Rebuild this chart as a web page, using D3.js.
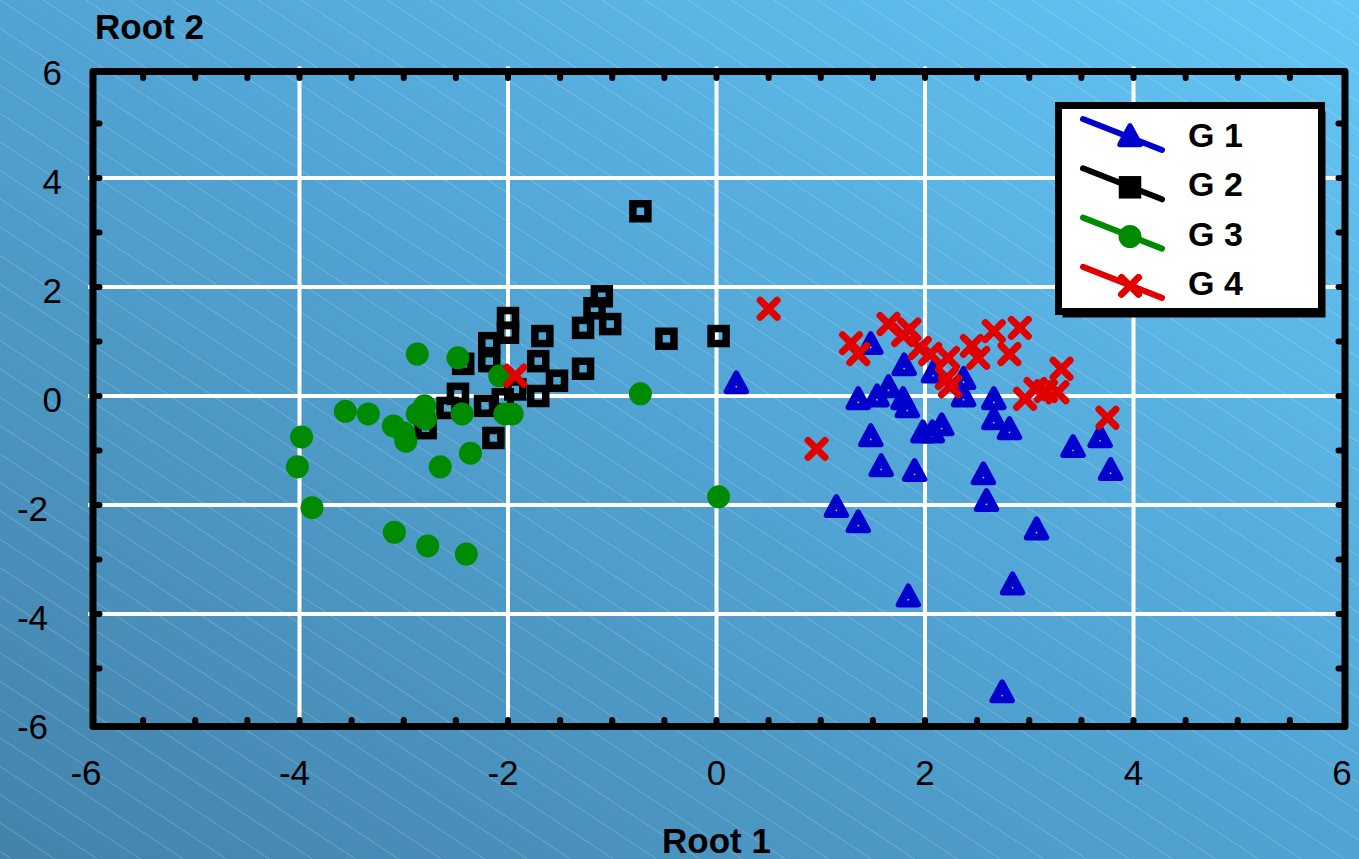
<!DOCTYPE html>
<html>
<head>
<meta charset="utf-8">
<script src="https://cdn.jsdelivr.net/npm/d3@7"></script>
<style>
  html, body { margin: 0; padding: 0; background: #50a0d0; }
  svg { display: block; }
  text { font-family: Arial, "Liberation Sans", sans-serif; fill: #000; }
</style>
</head>
<body>
<svg id="chart" width="1359" height="859"></svg>
<script>
// Discriminant scores: Root 1 (x) vs Root 2 (y) for four groups
const g1x = [0.19, 1.48, 1.80, 2.08, 2.37, 2.37, 1.36, 1.54, 1.65, 1.79, 1.83, 2.66, 2.66, 2.81, 1.48, 1.98, 2.07, 2.16, 1.58, 1.90, 2.56, 2.59, 3.42, 3.68, 3.78, 1.15, 1.36, 3.07, 1.84, 2.84, 2.74];
const g1y = [0.20, 0.92, 0.53, 0.40, 0.28, -0.04, -0.09, -0.04, 0.13, -0.09, -0.24, -0.09, -0.46, -0.64, -0.77, -0.70, -0.70, -0.57, -1.32, -1.41, -1.47, -1.96, -0.97, -0.79, -1.39, -2.07, -2.35, -2.48, -3.71, -3.49, -5.47];

const g2x = [-0.73, -1.10, -1.17, -1.28, -1.02, -0.48, 0.02, -1.28, -2.00, -2.00, -1.67, -2.18, -2.18, -2.43, -1.71, -1.53, -1.71, -1.93, -2.05, -2.22, -2.48, -2.58, -2.79, -2.14];
const g2y = [3.39, 1.83, 1.61, 1.25, 1.32, 1.05, 1.10, 0.50, 1.43, 1.16, 1.10, 0.97, 0.64, 0.59, 0.64, 0.28, 0.00, 0.12, -0.06, -0.18, 0.04, -0.22, -0.59, -0.77];

const g3x = [-2.87, -2.48, -2.08, -3.56, -3.34, -3.10, -3.00, -2.98, -2.87, -2.80, -2.79, -2.44, -2.03, -1.96, -3.98, -4.02, -2.65, -2.36, -3.88, -3.09, -2.77, -2.40, -0.73, 0.02];
const g3y = [0.77, 0.70, 0.37, -0.28, -0.33, -0.55, -0.68, -0.83, -0.33, -0.18, -0.42, -0.33, -0.33, -0.33, -0.75, -1.30, -1.30, -1.05, -2.05, -2.50, -2.75, -2.90, 0.04, -1.85];

const g4x = [0.50, 1.29, 1.36, 1.65, 1.79, 1.85, 1.95, 2.05, 2.22, 2.21, 2.24, 2.45, 2.51, 2.66, 2.81, 2.91, 3.31, 2.96, 3.06, 3.16, 3.27, 3.75, 0.96, -1.93];
const g4y = [1.60, 0.97, 0.77, 1.32, 1.12, 1.22, 0.88, 0.77, 0.70, 0.33, 0.18, 0.92, 0.70, 1.19, 0.77, 1.25, 0.50, -0.05, 0.13, 0.09, 0.07, -0.40, -0.97, 0.37];

const groupNames = ["G 1", "G 2", "G 3", "G 4"];
const groupColors = ["#0000cc", "#000000", "#008a00", "#e00000"];
const groupShapes = ["triangle", "square", "circle", "cross"];

const axisTicks = [-6, -4, -2, 0, 2, 4, 6];
const xTitle = "Root 1";
const yTitle = "Root 2";

const W = 1359, H = 859;
const svg = d3.select("#chart");
const defs = svg.append("defs");

// diagonal background gradient, darker lower-left to lighter upper-right
const grad = defs.append("linearGradient").attr("id", "bg")
  .attr("x1", 0).attr("y1", 1).attr("x2", 1).attr("y2", 0);
grad.append("stop").attr("offset", "0%").attr("stop-color", "#4383aa");
grad.append("stop").attr("offset", "50%").attr("stop-color", "#51a3d3");
grad.append("stop").attr("offset", "100%").attr("stop-color", "#64c6f6");
svg.append("rect").attr("width", W).attr("height", H).attr("fill", "url(#bg)");

// fine diagonal hatching over the whole background
const hatch = svg.append("g").attr("stroke", "#ffffff").attr("stroke-opacity", 0.22).attr("stroke-width", 1);
const slope = 0.66, spacing = 43;
d3.range(-35, 40).forEach(k => {
  const x0 = k * spacing;
  hatch.append("line").attr("x1", x0).attr("y1", 0).attr("x2", x0 + H / slope).attr("y2", H);
});

const x = d3.scaleLinear().domain([-6, 6]).range([91, 1342]);
const y = d3.scaleLinear().domain([-6, 6]).range([723, 69]);

const fx0 = x(-6) + 2, fx1 = x(6) + 3, fy0 = y(6) + 2.5, fy1 = y(-6) + 3.5;

// white grid
const grid = svg.append("g").attr("stroke", "#ffffff").attr("stroke-width", 4);
axisTicks.filter(v => v > -6 && v < 6).forEach(v => {
  grid.append("line").attr("x1", x(v)).attr("x2", x(v)).attr("y1", fy0 - 5).attr("y2", fy1);
  grid.append("line").attr("x1", fx0 - 5).attr("x2", fx1).attr("y1", y(v)).attr("y2", y(v));
});

// inward tick stubs
const tk = svg.append("g").attr("stroke", "#000").attr("stroke-width", 6).attr("stroke-linecap", "round");
d3.range(-5.5, 6, 0.5).forEach(v => {
  tk.append("line").attr("x1", x(v)).attr("x2", x(v)).attr("y1", fy0).attr("y2", fy0 + 6.5);
  tk.append("line").attr("x1", x(v)).attr("x2", x(v)).attr("y1", fy1).attr("y2", fy1 - 6.5);
});
d3.range(-5, 6, 1).forEach(v => {
  tk.append("line").attr("y1", y(v)).attr("y2", y(v)).attr("x1", fx0).attr("x2", fx0 + 6.5);
  tk.append("line").attr("y1", y(v)).attr("y2", y(v)).attr("x1", fx1).attr("x2", fx1 - 6.5);
});

// frame
svg.append("rect").attr("x", fx0).attr("y", fy0).attr("width", fx1 - fx0).attr("height", fy1 - fy0)
  .attr("fill", "none").attr("stroke", "#000").attr("stroke-width", 7).attr("stroke-linejoin", "round");

// tick labels
svg.append("g").selectAll("text").data(axisTicks).join("text")
  .attr("x", d => x(d) + (d < 0 ? -5 : 0)).attr("y", 785)
  .attr("text-anchor", "middle").attr("font-size", 35).text(d => d);
svg.append("g").selectAll("text").data(axisTicks).join("text")
  .attr("x", d => d < 0 ? 48 : 62).attr("y", d => y(d) + 16)
  .attr("text-anchor", "end").attr("font-size", 35).text(d => d);

// axis titles
svg.append("text").attr("x", 95).attr("y", 39).attr("font-size", 35).attr("font-weight", "bold").text(yTitle);
svg.append("text").attr("x", x(0)).attr("y", 853).attr("text-anchor", "middle")
  .attr("font-size", 35).attr("font-weight", "bold").text(xTitle);

// marker drawing
function marker(g, shape, color, cx, cy, solid) {
  const m = g.append("g").attr("transform", `translate(${cx},${cy})`);
  if (shape === "triangle") {
    m.append("path").attr("d", "M0,-12L10,6.5L-10,6.5Z")
      .attr("fill", color).attr("stroke", color).attr("stroke-width", 5.5).attr("stroke-linejoin", "round");
    if (!solid) m.append("circle").attr("cx", 0).attr("cy", 1.5).attr("r", 0.9).attr("fill", "#a8c8ff");
  } else if (shape === "square") {
    m.append("rect").attr("x", -7.5).attr("y", -7.5).attr("width", 15).attr("height", 15)
      .attr("fill", solid ? color : "none").attr("stroke", color).attr("stroke-width", 7.5);
  } else if (shape === "circle") {
    m.append("circle").attr("r", 11.5).attr("fill", color);
  } else {
    m.append("path").attr("d", "M-8.5,-8.5L8.5,8.5M-8.5,8.5L8.5,-8.5")
      .attr("stroke", color).attr("stroke-width", 7).attr("stroke-linecap", "round").attr("fill", "none");
  }
}

const series = [[g1x, g1y], [g2x, g2y], [g3x, g3y], [g4x, g4y]];
const pts = svg.append("g");
series.forEach(([xs, ys], i) => {
  const g = pts.append("g");
  xs.forEach((v, j) => marker(g, groupShapes[i], groupColors[i], x(v), y(ys[j]), false));
});

// legend
const lg = svg.append("g");
lg.append("rect").attr("x", 1062.5).attr("y", 111.5).attr("width", 263).attr("height", 206).attr("fill", "#000");
lg.append("rect").attr("x", 1058.5).attr("y", 105.5).attr("width", 263).attr("height", 206)
  .attr("fill", "#ffffff").attr("stroke", "#000").attr("stroke-width", 7);
groupNames.forEach((name, i) => {
  const dy = i * 49.3;
  lg.append("line").attr("x1", 1083).attr("y1", 119 + dy).attr("x2", 1162).attr("y2", 150 + dy)
    .attr("stroke", groupColors[i]).attr("stroke-width", 6).attr("stroke-linecap", "round");
  marker(lg, groupShapes[i], groupColors[i], 1130, 138 + dy, true);
  lg.append("text").attr("x", 1188).attr("y", 147 + dy).attr("font-size", 34).attr("font-weight", "bold").text(name);
});
</script>
</body>
</html>
